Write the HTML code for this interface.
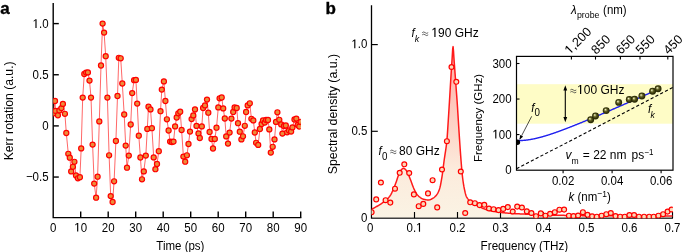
<!DOCTYPE html><html><head><meta charset="utf-8"><style>html,body{margin:0;padding:0;background:#fff;}svg{display:block;will-change:transform;}text{font-family:"Liberation Sans", sans-serif;}</style></head><body>
<svg width="685" height="252" viewBox="0 0 685 252">
<defs>
<linearGradient id="gf" x1="0" y1="46" x2="0" y2="218" gradientUnits="userSpaceOnUse">
<stop offset="0" stop-color="#ffa8a0"/><stop offset="0.2" stop-color="#ffbcb2"/><stop offset="0.43" stop-color="#fdd0c4"/><stop offset="0.72" stop-color="#fcebdc"/><stop offset="1" stop-color="#faf3e4"/></linearGradient>
<radialGradient id="sph" cx="0.5" cy="0.5" r="0.5" fx="0.36" fy="0.33"><stop offset="0" stop-color="#fafae8"/><stop offset="0.16" stop-color="#c8c890"/><stop offset="0.45" stop-color="#5e5e22"/><stop offset="0.8" stop-color="#303008"/><stop offset="1" stop-color="#262604"/></radialGradient>
<marker id="ah" viewBox="0 0 10 10" refX="9" refY="5" markerWidth="6" markerHeight="6" orient="auto-start-reverse"><path d="M0,1 L10,5 L0,9 z" fill="#000"/></marker>
</defs>
<text transform="translate(0.2,13.7)" font-size="17" font-weight="bold" stroke="#000" stroke-width="0.35">a</text>
<text transform="translate(325.6,13.7)" font-size="17" font-weight="bold" stroke="#000" stroke-width="0.35">b</text>
<g stroke="#000" stroke-width="1.4" fill="none">
<path d="M53.2,3.0 V217.6 H301.4"/>
<path d="M53.2,23.6 h5.6"/>
<path d="M53.2,74.75 h5.6"/>
<path d="M53.2,125.9 h5.6"/>
<path d="M53.2,177.05 h5.6"/>
<path d="M80.7,217.6 v-6"/>
<path d="M108.2,217.6 v-6"/>
<path d="M135.7,217.6 v-6"/>
<path d="M163.2,217.6 v-6"/>
<path d="M190.7,217.6 v-6"/>
<path d="M218.2,217.6 v-6"/>
<path d="M245.7,217.6 v-6"/>
<path d="M273.2,217.6 v-6"/>
<path d="M300.7,217.6 v-6"/>
</g>
<g font-size="11.5" fill="#000">
<g transform="translate(48.6,27.9) scale(1,1.1)"><text y="0" x="-15.99" font-size="11.5" > .0</text><path d="M-13.18,0.00 L-13.18,-6.88 L-14.92,-5.62 L-14.92,-6.60 L-13.04,-7.91 L-12.03,-7.91 L-12.03,0.00Z" fill="#000"/></g>
<g transform="translate(48.6,79.05) scale(1,1.1)"><text y="0" x="-15.99" font-size="11.5" >0.5</text></g>
<g transform="translate(48.6,130.2) scale(1,1.1)"><text y="0" x="-6.4" font-size="11.5" >0</text></g>
<g transform="translate(48.6,181.35) scale(1,1.1)"><text y="0" x="-22.7" font-size="11.5" >−0.5</text></g>
<g transform="translate(53.2,231.6) scale(1,1.1)"><text y="0" x="-3.2" font-size="11.5" >0</text></g>
<g transform="translate(80.7,231.6) scale(1,1.1)"><text y="0" x="-6.4" font-size="11.5" > 0</text><path d="M-3.59,0.00 L-3.59,-6.88 L-5.33,-5.62 L-5.33,-6.60 L-3.45,-7.91 L-2.44,-7.91 L-2.44,0.00Z" fill="#000"/></g>
<g transform="translate(108.2,231.6) scale(1,1.1)"><text y="0" x="-6.4" font-size="11.5" >20</text></g>
<g transform="translate(135.7,231.6) scale(1,1.1)"><text y="0" x="-6.4" font-size="11.5" >30</text></g>
<g transform="translate(163.2,231.6) scale(1,1.1)"><text y="0" x="-6.4" font-size="11.5" >40</text></g>
<g transform="translate(190.7,231.6) scale(1,1.1)"><text y="0" x="-6.4" font-size="11.5" >50</text></g>
<g transform="translate(218.2,231.6) scale(1,1.1)"><text y="0" x="-6.4" font-size="11.5" >60</text></g>
<g transform="translate(245.7,231.6) scale(1,1.1)"><text y="0" x="-6.4" font-size="11.5" >70</text></g>
<g transform="translate(273.2,231.6) scale(1,1.1)"><text y="0" x="-6.4" font-size="11.5" >80</text></g>
<g transform="translate(300.7,231.6) scale(1,1.1)"><text y="0" x="-6.4" font-size="11.5" >90</text></g>
<text transform="translate(180.4,250.2) scale(1,1.1)" text-anchor="middle">Time (ps)</text>
<text transform="translate(12.6,110.85) rotate(-90)" text-anchor="middle" font-size="12.2">Kerr rotation (a.u.)</text>
</g>
<clipPath id="ca"><rect x="53.2" y="0" width="247.6" height="218"/></clipPath>
<g clip-path="url(#ca)">
<path d="M53.5,113.3 L55,101 L55.5,110.9 L57.9,115.3 L59.4,110.4 L61.4,108.1 L62.9,103.9 L64.9,113.8 L66.3,133 L68.3,153.8 L69.8,157.7 L71.2,171.4 L72.9,166.8 L74.4,161.8 L76,175.5 L77.9,178.3 L79.9,177.2 L81.2,148.4 L82.7,97.6 L84.3,74 L86.1,72.6 L87.9,72.4 L89.5,80.6 L91,97.6 L92.6,144.6 L94.2,183.6 L96.1,197.7 L97.6,176.7 L99.3,121.4 L101,65.5 L102.6,23.6 L104.1,32.6 L105.7,56.2 L107.4,97.6 L109.1,155.3 L110.7,196.1 L112.6,202 L114.1,181.3 L115.9,141 L117.5,96 L118.8,57.8 L120.7,58.3 L122.3,83.5 L124.2,114.5 L125.7,145.6 L127,167.7 L128.8,155.6 L130.7,124.5 L132.2,93.1 L134.1,80.2 L135.9,79.9 L137.2,103.6 L138.8,135.7 L140.4,157.5 L142,179.3 L143.8,171.4 L145.8,155.6 L147.3,128.9 L148.5,106.7 L150.5,109.4 L151.9,128.2 L153.7,157.4 L155.4,169.2 L157,164 L158.8,151.2 L160.5,111.2 L161.8,89.6 L163.9,81.4 L165.4,101 L166.9,119.3 L168.6,130.5 L170.1,141.6 L171.9,142 L173.5,141.6 L175.1,126.4 L176.7,117.5 L178.3,113.3 L180.2,111.7 L181.6,130 L183.4,156.6 L185.2,161.7 L186.9,155.3 L188.5,144 L190,131.6 L191.6,119.1 L193.3,115.4 L195,109.4 L196.5,125.9 L198.5,133.5 L199.8,138 L201.8,126.4 L203.1,108 L205,105.4 L207,99.6 L208.3,112.7 L209.6,132 L211.5,139 L213,148.5 L214.8,139 L216.5,127.7 L218.3,107.4 L219.6,98.3 L221.7,97.5 L223.2,108.4 L224.8,118.5 L226.2,136.4 L228,143.6 L229.6,132.6 L231.4,118.6 L233.2,112 L234.6,107.5 L236.7,108 L238,123.2 L239.8,131.7 L241.4,139.4 L243,136.3 L244.8,125.8 L246.1,112 L247.7,105.4 L249.8,103.3 L251.4,118.8 L253.3,120.4 L254.8,132.5 L256.1,142.8 L258.2,144.9 L259.9,129 L261.6,124 L263,120.5 L264.8,122.5 L266.1,120 L268,120 L269.3,129.4 L270.8,152.6 L272.7,146.8 L274.5,139.4 L276,121.9 L277.4,112.3 L279.3,119.8 L281.2,124.4 L282.4,133.6 L284,126 L285.8,125.5 L287.1,132.3 L289,130.5 L291.1,131.5 L292.4,127.4 L294.5,119.5 L296.3,118.6 L297.7,125 L299.3,126.5 L300.6,121.9" fill="none" stroke="#ff0000" stroke-width="0.6" stroke-linejoin="round"/>
<g fill="#ec8c3a" stroke="#ff0000" stroke-width="1.2">
<circle cx="53.5" cy="113.3" r="2.55"/>
<circle cx="55" cy="101" r="2.55"/>
<circle cx="55.5" cy="110.9" r="2.55"/>
<circle cx="57.9" cy="115.3" r="2.55"/>
<circle cx="59.4" cy="110.4" r="2.55"/>
<circle cx="61.4" cy="108.1" r="2.55"/>
<circle cx="62.9" cy="103.9" r="2.55"/>
<circle cx="64.9" cy="113.8" r="2.55"/>
<circle cx="66.3" cy="133" r="2.55"/>
<circle cx="68.3" cy="153.8" r="2.55"/>
<circle cx="69.8" cy="157.7" r="2.55"/>
<circle cx="71.2" cy="171.4" r="2.55"/>
<circle cx="72.9" cy="166.8" r="2.55"/>
<circle cx="74.4" cy="161.8" r="2.55"/>
<circle cx="76" cy="175.5" r="2.55"/>
<circle cx="77.9" cy="178.3" r="2.55"/>
<circle cx="79.9" cy="177.2" r="2.55"/>
<circle cx="81.2" cy="148.4" r="2.55"/>
<circle cx="82.7" cy="97.6" r="2.55"/>
<circle cx="84.3" cy="74" r="2.55"/>
<circle cx="86.1" cy="72.6" r="2.55"/>
<circle cx="87.9" cy="72.4" r="2.55"/>
<circle cx="89.5" cy="80.6" r="2.55"/>
<circle cx="91" cy="97.6" r="2.55"/>
<circle cx="92.6" cy="144.6" r="2.55"/>
<circle cx="94.2" cy="183.6" r="2.55"/>
<circle cx="96.1" cy="197.7" r="2.55"/>
<circle cx="97.6" cy="176.7" r="2.55"/>
<circle cx="99.3" cy="121.4" r="2.55"/>
<circle cx="101" cy="65.5" r="2.55"/>
<circle cx="102.6" cy="23.6" r="2.55"/>
<circle cx="104.1" cy="32.6" r="2.55"/>
<circle cx="105.7" cy="56.2" r="2.55"/>
<circle cx="107.4" cy="97.6" r="2.55"/>
<circle cx="109.1" cy="155.3" r="2.55"/>
<circle cx="110.7" cy="196.1" r="2.55"/>
<circle cx="112.6" cy="202" r="2.55"/>
<circle cx="114.1" cy="181.3" r="2.55"/>
<circle cx="115.9" cy="141" r="2.55"/>
<circle cx="117.5" cy="96" r="2.55"/>
<circle cx="118.8" cy="57.8" r="2.55"/>
<circle cx="120.7" cy="58.3" r="2.55"/>
<circle cx="122.3" cy="83.5" r="2.55"/>
<circle cx="124.2" cy="114.5" r="2.55"/>
<circle cx="125.7" cy="145.6" r="2.55"/>
<circle cx="127" cy="167.7" r="2.55"/>
<circle cx="128.8" cy="155.6" r="2.55"/>
<circle cx="130.7" cy="124.5" r="2.55"/>
<circle cx="132.2" cy="93.1" r="2.55"/>
<circle cx="134.1" cy="80.2" r="2.55"/>
<circle cx="135.9" cy="79.9" r="2.55"/>
<circle cx="137.2" cy="103.6" r="2.55"/>
<circle cx="138.8" cy="135.7" r="2.55"/>
<circle cx="140.4" cy="157.5" r="2.55"/>
<circle cx="142" cy="179.3" r="2.55"/>
<circle cx="143.8" cy="171.4" r="2.55"/>
<circle cx="145.8" cy="155.6" r="2.55"/>
<circle cx="147.3" cy="128.9" r="2.55"/>
<circle cx="148.5" cy="106.7" r="2.55"/>
<circle cx="150.5" cy="109.4" r="2.55"/>
<circle cx="151.9" cy="128.2" r="2.55"/>
<circle cx="153.7" cy="157.4" r="2.55"/>
<circle cx="155.4" cy="169.2" r="2.55"/>
<circle cx="157" cy="164" r="2.55"/>
<circle cx="158.8" cy="151.2" r="2.55"/>
<circle cx="160.5" cy="111.2" r="2.55"/>
<circle cx="161.8" cy="89.6" r="2.55"/>
<circle cx="163.9" cy="81.4" r="2.55"/>
<circle cx="165.4" cy="101" r="2.55"/>
<circle cx="166.9" cy="119.3" r="2.55"/>
<circle cx="168.6" cy="130.5" r="2.55"/>
<circle cx="170.1" cy="141.6" r="2.55"/>
<circle cx="171.9" cy="142" r="2.55"/>
<circle cx="173.5" cy="141.6" r="2.55"/>
<circle cx="175.1" cy="126.4" r="2.55"/>
<circle cx="176.7" cy="117.5" r="2.55"/>
<circle cx="178.3" cy="113.3" r="2.55"/>
<circle cx="180.2" cy="111.7" r="2.55"/>
<circle cx="181.6" cy="130" r="2.55"/>
<circle cx="183.4" cy="156.6" r="2.55"/>
<circle cx="185.2" cy="161.7" r="2.55"/>
<circle cx="186.9" cy="155.3" r="2.55"/>
<circle cx="188.5" cy="144" r="2.55"/>
<circle cx="190" cy="131.6" r="2.55"/>
<circle cx="191.6" cy="119.1" r="2.55"/>
<circle cx="193.3" cy="115.4" r="2.55"/>
<circle cx="195" cy="109.4" r="2.55"/>
<circle cx="196.5" cy="125.9" r="2.55"/>
<circle cx="198.5" cy="133.5" r="2.55"/>
<circle cx="199.8" cy="138" r="2.55"/>
<circle cx="201.8" cy="126.4" r="2.55"/>
<circle cx="203.1" cy="108" r="2.55"/>
<circle cx="205" cy="105.4" r="2.55"/>
<circle cx="207" cy="99.6" r="2.55"/>
<circle cx="208.3" cy="112.7" r="2.55"/>
<circle cx="209.6" cy="132" r="2.55"/>
<circle cx="211.5" cy="139" r="2.55"/>
<circle cx="213" cy="148.5" r="2.55"/>
<circle cx="214.8" cy="139" r="2.55"/>
<circle cx="216.5" cy="127.7" r="2.55"/>
<circle cx="218.3" cy="107.4" r="2.55"/>
<circle cx="219.6" cy="98.3" r="2.55"/>
<circle cx="221.7" cy="97.5" r="2.55"/>
<circle cx="223.2" cy="108.4" r="2.55"/>
<circle cx="224.8" cy="118.5" r="2.55"/>
<circle cx="226.2" cy="136.4" r="2.55"/>
<circle cx="228" cy="143.6" r="2.55"/>
<circle cx="229.6" cy="132.6" r="2.55"/>
<circle cx="231.4" cy="118.6" r="2.55"/>
<circle cx="233.2" cy="112" r="2.55"/>
<circle cx="234.6" cy="107.5" r="2.55"/>
<circle cx="236.7" cy="108" r="2.55"/>
<circle cx="238" cy="123.2" r="2.55"/>
<circle cx="239.8" cy="131.7" r="2.55"/>
<circle cx="241.4" cy="139.4" r="2.55"/>
<circle cx="243" cy="136.3" r="2.55"/>
<circle cx="244.8" cy="125.8" r="2.55"/>
<circle cx="246.1" cy="112" r="2.55"/>
<circle cx="247.7" cy="105.4" r="2.55"/>
<circle cx="249.8" cy="103.3" r="2.55"/>
<circle cx="251.4" cy="118.8" r="2.55"/>
<circle cx="253.3" cy="120.4" r="2.55"/>
<circle cx="254.8" cy="132.5" r="2.55"/>
<circle cx="256.1" cy="142.8" r="2.55"/>
<circle cx="258.2" cy="144.9" r="2.55"/>
<circle cx="259.9" cy="129" r="2.55"/>
<circle cx="261.6" cy="124" r="2.55"/>
<circle cx="263" cy="120.5" r="2.55"/>
<circle cx="264.8" cy="122.5" r="2.55"/>
<circle cx="266.1" cy="120" r="2.55"/>
<circle cx="268" cy="120" r="2.55"/>
<circle cx="269.3" cy="129.4" r="2.55"/>
<circle cx="270.8" cy="152.6" r="2.55"/>
<circle cx="272.7" cy="146.8" r="2.55"/>
<circle cx="274.5" cy="139.4" r="2.55"/>
<circle cx="276" cy="121.9" r="2.55"/>
<circle cx="277.4" cy="112.3" r="2.55"/>
<circle cx="279.3" cy="119.8" r="2.55"/>
<circle cx="281.2" cy="124.4" r="2.55"/>
<circle cx="282.4" cy="133.6" r="2.55"/>
<circle cx="284" cy="126" r="2.55"/>
<circle cx="285.8" cy="125.5" r="2.55"/>
<circle cx="287.1" cy="132.3" r="2.55"/>
<circle cx="289" cy="130.5" r="2.55"/>
<circle cx="291.1" cy="131.5" r="2.55"/>
<circle cx="292.4" cy="127.4" r="2.55"/>
<circle cx="294.5" cy="119.5" r="2.55"/>
<circle cx="296.3" cy="118.6" r="2.55"/>
<circle cx="297.7" cy="125" r="2.55"/>
<circle cx="299.3" cy="126.5" r="2.55"/>
<circle cx="300.6" cy="121.9" r="2.55"/>
</g></g>
<path d="M371.5,5.2 V218 H673" stroke="#000" stroke-width="1.3" fill="none"/>
<clipPath id="cf"><rect x="372.2" y="0" width="300.5" height="217.6"/></clipPath>
<path d="M371.5,209.3 L371.9,209.1 L372.3,208.89 L372.7,208.69 L373.1,208.48 L373.5,208.26 L373.9,208.05 L374.3,207.83 L374.7,207.61 L375.1,207.39 L375.5,207.17 L375.9,206.94 L376.3,206.71 L376.7,206.48 L377.1,206.25 L377.5,206.02 L377.9,205.79 L378.3,205.55 L378.7,205.31 L379.1,205.07 L379.5,204.82 L379.9,204.57 L380.3,204.32 L380.7,204.06 L381.1,203.8 L381.5,203.53 L381.9,203.26 L382.3,202.99 L382.7,202.71 L383.1,202.43 L383.5,202.15 L383.9,201.85 L384.3,201.55 L384.7,201.24 L385.1,200.92 L385.5,200.58 L385.9,200.24 L386.3,199.9 L386.7,199.55 L387.1,199.19 L387.5,198.81 L387.9,198.42 L388.3,198.01 L388.7,197.57 L389.1,197.1 L389.5,196.6 L389.9,196.05 L390.3,195.43 L390.7,194.77 L391.1,194.05 L391.5,193.3 L391.9,192.51 L392.3,191.7 L392.7,190.87 L393.1,189.97 L393.5,189.03 L393.9,188.04 L394.3,187.02 L394.7,185.98 L395.1,184.92 L395.5,183.86 L395.9,182.78 L396.3,181.63 L396.7,180.43 L397.1,179.21 L397.5,178.01 L397.9,176.84 L398.3,175.74 L398.7,174.73 L399.1,173.81 L399.5,172.9 L399.9,172.03 L400.3,171.25 L400.7,170.59 L401.1,170.09 L401.5,169.63 L401.9,169.2 L402.3,168.82 L402.7,168.53 L403.1,168.34 L403.5,168.3 L403.9,168.4 L404.3,168.59 L404.7,168.86 L405.1,169.17 L405.5,169.5 L405.9,169.91 L406.3,170.45 L406.7,171.08 L407.1,171.77 L407.5,172.5 L407.9,173.28 L408.3,174.16 L408.7,175.11 L409.1,176.11 L409.5,177.16 L409.9,178.21 L410.3,179.27 L410.7,180.3 L411.1,181.35 L411.5,182.44 L411.9,183.55 L412.3,184.67 L412.7,185.77 L413.1,186.82 L413.5,187.81 L413.9,188.72 L414.3,189.58 L414.7,190.42 L415.1,191.22 L415.5,191.98 L415.9,192.68 L416.3,193.31 L416.7,193.88 L417.1,194.41 L417.5,194.91 L417.9,195.37 L418.3,195.81 L418.7,196.21 L419.1,196.57 L419.5,196.9 L419.9,197.2 L420.3,197.5 L420.7,197.78 L421.1,198.05 L421.5,198.31 L421.9,198.54 L422.3,198.75 L422.7,198.93 L423.1,199.08 L423.5,199.2 L423.9,199.3 L424.3,199.4 L424.7,199.49 L425.1,199.58 L425.5,199.67 L425.9,199.74 L426.3,199.81 L426.7,199.87 L427.1,199.92 L427.5,199.96 L427.9,199.98 L428.3,200 L428.7,199.99 L429.1,199.95 L429.5,199.87 L429.9,199.76 L430.3,199.61 L430.7,199.44 L431.1,199.24 L431.5,199.02 L431.9,198.79 L432.3,198.55 L432.7,198.3 L433.1,198.05 L433.5,197.8 L433.9,197.53 L434.3,197.23 L434.7,196.9 L435.1,196.53 L435.5,196.13 L435.9,195.69 L436.3,195.22 L436.7,194.71 L437.1,194.16 L437.5,193.54 L437.9,192.84 L438.3,192.03 L438.7,191.13 L439.1,190.12 L439.5,189 L439.9,187.65 L440.3,185.99 L440.7,184.08 L441.1,181.97 L441.5,179.73 L441.9,177.4 L442.3,174.76 L442.7,171.81 L443.1,168.67 L443.5,165.45 L443.9,162.28 L444.3,159.27 L444.7,156.54 L445.1,153.98 L445.5,151.43 L445.9,148.74 L446.3,145.75 L446.7,142.33 L447.1,138.17 L447.5,132.65 L447.9,126.35 L448.3,120 L448.7,113.73 L449.1,107.27 L449.5,100.71 L449.9,94.02 L450.3,87.32 L450.7,80.56 L451.1,74 L451.5,67.83 L451.9,61.91 L452.3,55.66 L452.7,48.7 L453.1,46.63 L453.5,51.06 L453.9,57.59 L454.3,63 L454.7,68.49 L455.1,74 L455.5,79.45 L455.9,84.91 L456.3,90.35 L456.7,95.68 L457.1,101.12 L457.5,107.04 L457.9,113.5 L458.3,120 L458.7,126.38 L459.1,132.74 L459.5,138.91 L459.9,144.82 L460.3,150.59 L460.7,156.1 L461.1,161.26 L461.5,166.27 L461.9,171 L462.3,175.11 L462.7,178.49 L463.1,181.5 L463.5,184.17 L463.9,186.48 L464.3,188.52 L464.7,190.47 L465.1,192.27 L465.5,193.88 L465.9,195.24 L466.3,196.29 L466.7,197.07 L467.1,197.75 L467.5,198.36 L467.9,198.9 L468.3,199.39 L468.7,199.82 L469.1,200.22 L469.5,200.58 L469.9,200.92 L470.3,201.23 L470.7,201.52 L471.1,201.79 L471.5,202.03 L471.9,202.26 L472.3,202.48 L472.7,202.68 L473.1,202.89 L473.5,203.09 L473.9,203.29 L474.3,203.5 L474.7,203.73 L475.1,203.96 L475.5,204.21 L475.9,204.46 L476.3,204.72 L476.7,204.99 L477.1,205.26 L477.5,205.53 L477.9,205.79 L478.3,206.05 L478.7,206.3 L479.1,206.55 L479.5,206.78 L479.9,207 L480.3,207.2 L480.7,207.39 L481.1,207.57 L481.5,207.75 L481.9,207.93 L482.3,208.1 L482.7,208.27 L483.1,208.43 L483.5,208.59 L483.9,208.75 L484.3,208.9 L484.7,209.05 L485.1,209.19 L485.5,209.33 L485.9,209.47 L486.3,209.6 L486.7,209.72 L487.1,209.84 L487.5,209.96 L487.9,210.07 L488.3,210.17 L488.7,210.28 L489.1,210.37 L489.5,210.47 L489.9,210.56 L490.3,210.65 L490.7,210.74 L491.1,210.82 L491.5,210.91 L491.9,210.99 L492.3,211.07 L492.7,211.15 L493.1,211.23 L493.5,211.3 L493.9,211.38 L494.3,211.45 L494.7,211.52 L495.1,211.59 L495.5,211.66 L495.9,211.72 L496.3,211.79 L496.7,211.85 L497.1,211.91 L497.5,211.97 L497.9,212.03 L498.3,212.09 L498.7,212.14 L499.1,212.2 L499.5,212.25 L499.9,212.3 L500.3,212.35 L500.7,212.4 L501.1,212.45 L501.5,212.5 L501.9,212.54 L502.3,212.59 L502.7,212.63 L503.1,212.68 L503.5,212.72 L503.9,212.76 L504.3,212.8 L504.7,212.84 L505.1,212.89 L505.5,212.92 L505.9,212.96 L506.3,213 L506.7,213.04 L507.1,213.07 L507.5,213.11 L507.9,213.14 L508.3,213.18 L508.7,213.21 L509.1,213.24 L509.5,213.28 L509.9,213.31 L510.3,213.34 L510.7,213.37 L511.1,213.4 L511.5,213.43 L511.9,213.45 L512.3,213.48 L512.7,213.51 L513.1,213.53 L513.5,213.56 L513.9,213.58 L514.3,213.6 L514.7,213.63 L515.1,213.65 L515.5,213.67 L515.9,213.69 L516.3,213.71 L516.7,213.74 L517.1,213.76 L517.5,213.78 L517.9,213.79 L518.3,213.81 L518.7,213.83 L519.1,213.85 L519.5,213.87 L519.9,213.89 L520.3,213.91 L520.7,213.93 L521.1,213.94 L521.5,213.96 L521.9,213.98 L522.3,214 L522.7,214.02 L523.1,214.03 L523.5,214.05 L523.9,214.07 L524.3,214.09 L524.7,214.11 L525.1,214.13 L525.5,214.15 L525.9,214.17 L526.3,214.19 L526.7,214.21 L527.1,214.23 L527.5,214.25 L527.9,214.27 L528.3,214.29 L528.7,214.31 L529.1,214.32 L529.5,214.34 L529.9,214.36 L530.3,214.38 L530.7,214.4 L531.1,214.42 L531.5,214.44 L531.9,214.46 L532.3,214.48 L532.7,214.5 L533.1,214.52 L533.5,214.54 L533.9,214.55 L534.3,214.57 L534.7,214.59 L535.1,214.61 L535.5,214.63 L535.9,214.64 L536.3,214.66 L536.7,214.68 L537.1,214.69 L537.5,214.71 L537.9,214.72 L538.3,214.74 L538.7,214.75 L539.1,214.77 L539.5,214.78 L539.9,214.8 L540.3,214.81 L540.7,214.82 L541.1,214.84 L541.5,214.85 L541.9,214.86 L542.3,214.87 L542.7,214.89 L543.1,214.9 L543.5,214.91 L543.9,214.92 L544.3,214.94 L544.7,214.95 L545.1,214.96 L545.5,214.97 L545.9,214.98 L546.3,214.99 L546.7,215 L547.1,215.02 L547.5,215.03 L547.9,215.04 L548.3,215.05 L548.7,215.06 L549.1,215.07 L549.5,215.08 L549.9,215.09 L550.3,215.1 L550.7,215.11 L551.1,215.12 L551.5,215.13 L551.9,215.14 L552.3,215.14 L552.7,215.15 L553.1,215.16 L553.5,215.17 L553.9,215.18 L554.3,215.19 L554.7,215.19 L555.1,215.2 L555.5,215.21 L555.9,215.22 L556.3,215.23 L556.7,215.23 L557.1,215.24 L557.5,215.25 L557.9,215.26 L558.3,215.26 L558.7,215.27 L559.1,215.28 L559.5,215.29 L559.9,215.29 L560.3,215.3 L560.7,215.31 L561.1,215.31 L561.5,215.32 L561.9,215.33 L562.3,215.34 L562.7,215.34 L563.1,215.35 L563.5,215.36 L563.9,215.36 L564.3,215.37 L564.7,215.38 L565.1,215.38 L565.5,215.39 L565.9,215.4 L566.3,215.4 L566.7,215.41 L567.1,215.42 L567.5,215.42 L567.9,215.43 L568.3,215.44 L568.7,215.44 L569.1,215.45 L569.5,215.46 L569.9,215.46 L570.3,215.47 L570.7,215.48 L571.1,215.48 L571.5,215.49 L571.9,215.49 L572.3,215.5 L572.7,215.5 L573.1,215.51 L573.5,215.52 L573.9,215.52 L574.3,215.53 L574.7,215.53 L575.1,215.54 L575.5,215.54 L575.9,215.55 L576.3,215.56 L576.7,215.56 L577.1,215.57 L577.5,215.57 L577.9,215.58 L578.3,215.58 L578.7,215.59 L579.1,215.59 L579.5,215.6 L579.9,215.6 L580.3,215.61 L580.7,215.61 L581.1,215.62 L581.5,215.62 L581.9,215.62 L582.3,215.63 L582.7,215.63 L583.1,215.64 L583.5,215.64 L583.9,215.65 L584.3,215.65 L584.7,215.65 L585.1,215.66 L585.5,215.66 L585.9,215.67 L586.3,215.67 L586.7,215.67 L587.1,215.68 L587.5,215.68 L587.9,215.68 L588.3,215.69 L588.7,215.69 L589.1,215.69 L589.5,215.7 L589.9,215.7 L590.3,215.7 L590.7,215.71 L591.1,215.71 L591.5,215.71 L591.9,215.71 L592.3,215.72 L592.7,215.72 L593.1,215.72 L593.5,215.73 L593.9,215.73 L594.3,215.73 L594.7,215.73 L595.1,215.74 L595.5,215.74 L595.9,215.74 L596.3,215.74 L596.7,215.75 L597.1,215.75 L597.5,215.75 L597.9,215.75 L598.3,215.76 L598.7,215.76 L599.1,215.76 L599.5,215.76 L599.9,215.77 L600.3,215.77 L600.7,215.77 L601.1,215.77 L601.5,215.78 L601.9,215.78 L602.3,215.78 L602.7,215.78 L603.1,215.79 L603.5,215.79 L603.9,215.79 L604.3,215.79 L604.7,215.79 L605.1,215.8 L605.5,215.8 L605.9,215.8 L606.3,215.8 L606.7,215.8 L607.1,215.81 L607.5,215.81 L607.9,215.81 L608.3,215.81 L608.7,215.82 L609.1,215.82 L609.5,215.82 L609.9,215.82 L610.3,215.82 L610.7,215.82 L611.1,215.83 L611.5,215.83 L611.9,215.83 L612.3,215.83 L612.7,215.83 L613.1,215.84 L613.5,215.84 L613.9,215.84 L614.3,215.84 L614.7,215.84 L615.1,215.84 L615.5,215.85 L615.9,215.85 L616.3,215.85 L616.7,215.85 L617.1,215.85 L617.5,215.85 L617.9,215.86 L618.3,215.86 L618.7,215.86 L619.1,215.86 L619.5,215.86 L619.9,215.86 L620.3,215.87 L620.7,215.87 L621.1,215.87 L621.5,215.87 L621.9,215.87 L622.3,215.87 L622.7,215.87 L623.1,215.88 L623.5,215.88 L623.9,215.88 L624.3,215.88 L624.7,215.88 L625.1,215.88 L625.5,215.88 L625.9,215.89 L626.3,215.89 L626.7,215.89 L627.1,215.89 L627.5,215.89 L627.9,215.89 L628.3,215.89 L628.7,215.9 L629.1,215.9 L629.5,215.9 L629.9,215.9 L630.3,215.9 L630.7,215.9 L631.1,215.9 L631.5,215.9 L631.9,215.91 L632.3,215.91 L632.7,215.91 L633.1,215.91 L633.5,215.91 L633.9,215.91 L634.3,215.91 L634.7,215.91 L635.1,215.92 L635.5,215.92 L635.9,215.92 L636.3,215.92 L636.7,215.92 L637.1,215.92 L637.5,215.92 L637.9,215.92 L638.3,215.93 L638.7,215.93 L639.1,215.93 L639.5,215.93 L639.9,215.93 L640.3,215.93 L640.7,215.93 L641.1,215.93 L641.5,215.94 L641.9,215.94 L642.3,215.94 L642.7,215.94 L643.1,215.94 L643.5,215.94 L643.9,215.94 L644.3,215.94 L644.7,215.94 L645.1,215.95 L645.5,215.95 L645.9,215.95 L646.3,215.95 L646.7,215.95 L647.1,215.95 L647.5,215.95 L647.9,215.95 L648.3,215.95 L648.7,215.96 L649.1,215.96 L649.5,215.96 L649.9,215.96 L650.3,215.96 L650.7,215.96 L651.1,215.96 L651.5,215.96 L651.9,215.96 L652.3,215.96 L652.7,215.97 L653.1,215.97 L653.5,215.97 L653.9,215.97 L654.3,215.97 L654.7,215.97 L655.1,215.97 L655.5,215.97 L655.9,215.97 L656.3,215.97 L656.7,215.97 L657.1,215.98 L657.5,215.98 L657.9,215.98 L658.3,215.98 L658.7,215.98 L659.1,215.98 L659.5,215.98 L659.9,215.98 L660.3,215.98 L660.7,215.98 L661.1,215.98 L661.5,215.98 L661.9,215.98 L662.3,215.99 L662.7,215.99 L663.1,215.99 L663.5,215.99 L663.9,215.99 L664.3,215.99 L664.7,215.99 L665.1,215.99 L665.5,215.99 L665.9,215.99 L666.3,215.99 L666.7,215.99 L667.1,215.99 L667.5,215.99 L667.9,215.99 L668.3,215.99 L668.7,216 L669.1,216 L669.5,216 L669.9,216 L670.3,216 L670.7,216 L671.1,216 L671.5,216 L671.9,216 L672.3,216 L672.7,216 L672.7,219 L371.5,219 Z" fill="url(#gf)" stroke="none" clip-path="url(#cf)"/>
<g stroke="#000" stroke-width="1.15" fill="none">
<path d="M371.5,131.3 h6.3"/>
<path d="M371.5,44.6 h6.3"/>
<path d="M414.5,218 v-6"/>
<path d="M457.5,218 v-6"/>
<path d="M500.5,218 v-6"/>
<path d="M543.5,218 v-6"/>
<path d="M586.5,218 v-6"/>
<path d="M629.5,218 v-6"/>
<path d="M672.5,218 v-6"/>
</g>
<clipPath id="cb"><rect x="371.5" y="0" width="301.3" height="218.3"/></clipPath>
<g clip-path="url(#cb)">
<path d="M371.5,209.3 L371.9,209.1 L372.3,208.89 L372.7,208.69 L373.1,208.48 L373.5,208.26 L373.9,208.05 L374.3,207.83 L374.7,207.61 L375.1,207.39 L375.5,207.17 L375.9,206.94 L376.3,206.71 L376.7,206.48 L377.1,206.25 L377.5,206.02 L377.9,205.79 L378.3,205.55 L378.7,205.31 L379.1,205.07 L379.5,204.82 L379.9,204.57 L380.3,204.32 L380.7,204.06 L381.1,203.8 L381.5,203.53 L381.9,203.26 L382.3,202.99 L382.7,202.71 L383.1,202.43 L383.5,202.15 L383.9,201.85 L384.3,201.55 L384.7,201.24 L385.1,200.92 L385.5,200.58 L385.9,200.24 L386.3,199.9 L386.7,199.55 L387.1,199.19 L387.5,198.81 L387.9,198.42 L388.3,198.01 L388.7,197.57 L389.1,197.1 L389.5,196.6 L389.9,196.05 L390.3,195.43 L390.7,194.77 L391.1,194.05 L391.5,193.3 L391.9,192.51 L392.3,191.7 L392.7,190.87 L393.1,189.97 L393.5,189.03 L393.9,188.04 L394.3,187.02 L394.7,185.98 L395.1,184.92 L395.5,183.86 L395.9,182.78 L396.3,181.63 L396.7,180.43 L397.1,179.21 L397.5,178.01 L397.9,176.84 L398.3,175.74 L398.7,174.73 L399.1,173.81 L399.5,172.9 L399.9,172.03 L400.3,171.25 L400.7,170.59 L401.1,170.09 L401.5,169.63 L401.9,169.2 L402.3,168.82 L402.7,168.53 L403.1,168.34 L403.5,168.3 L403.9,168.4 L404.3,168.59 L404.7,168.86 L405.1,169.17 L405.5,169.5 L405.9,169.91 L406.3,170.45 L406.7,171.08 L407.1,171.77 L407.5,172.5 L407.9,173.28 L408.3,174.16 L408.7,175.11 L409.1,176.11 L409.5,177.16 L409.9,178.21 L410.3,179.27 L410.7,180.3 L411.1,181.35 L411.5,182.44 L411.9,183.55 L412.3,184.67 L412.7,185.77 L413.1,186.82 L413.5,187.81 L413.9,188.72 L414.3,189.58 L414.7,190.42 L415.1,191.22 L415.5,191.98 L415.9,192.68 L416.3,193.31 L416.7,193.88 L417.1,194.41 L417.5,194.91 L417.9,195.37 L418.3,195.81 L418.7,196.21 L419.1,196.57 L419.5,196.9 L419.9,197.2 L420.3,197.5 L420.7,197.78 L421.1,198.05 L421.5,198.31 L421.9,198.54 L422.3,198.75 L422.7,198.93 L423.1,199.08 L423.5,199.2 L423.9,199.3 L424.3,199.4 L424.7,199.49 L425.1,199.58 L425.5,199.67 L425.9,199.74 L426.3,199.81 L426.7,199.87 L427.1,199.92 L427.5,199.96 L427.9,199.98 L428.3,200 L428.7,199.99 L429.1,199.95 L429.5,199.87 L429.9,199.76 L430.3,199.61 L430.7,199.44 L431.1,199.24 L431.5,199.02 L431.9,198.79 L432.3,198.55 L432.7,198.3 L433.1,198.05 L433.5,197.8 L433.9,197.53 L434.3,197.23 L434.7,196.9 L435.1,196.53 L435.5,196.13 L435.9,195.69 L436.3,195.22 L436.7,194.71 L437.1,194.16 L437.5,193.54 L437.9,192.84 L438.3,192.03 L438.7,191.13 L439.1,190.12 L439.5,189 L439.9,187.65 L440.3,185.99 L440.7,184.08 L441.1,181.97 L441.5,179.73 L441.9,177.4 L442.3,174.76 L442.7,171.81 L443.1,168.67 L443.5,165.45 L443.9,162.28 L444.3,159.27 L444.7,156.54 L445.1,153.98 L445.5,151.43 L445.9,148.74 L446.3,145.75 L446.7,142.33 L447.1,138.17 L447.5,132.65 L447.9,126.35 L448.3,120 L448.7,113.73 L449.1,107.27 L449.5,100.71 L449.9,94.02 L450.3,87.32 L450.7,80.56 L451.1,74 L451.5,67.83 L451.9,61.91 L452.3,55.66 L452.7,48.7 L453.1,46.63 L453.5,51.06 L453.9,57.59 L454.3,63 L454.7,68.49 L455.1,74 L455.5,79.45 L455.9,84.91 L456.3,90.35 L456.7,95.68 L457.1,101.12 L457.5,107.04 L457.9,113.5 L458.3,120 L458.7,126.38 L459.1,132.74 L459.5,138.91 L459.9,144.82 L460.3,150.59 L460.7,156.1 L461.1,161.26 L461.5,166.27 L461.9,171 L462.3,175.11 L462.7,178.49 L463.1,181.5 L463.5,184.17 L463.9,186.48 L464.3,188.52 L464.7,190.47 L465.1,192.27 L465.5,193.88 L465.9,195.24 L466.3,196.29 L466.7,197.07 L467.1,197.75 L467.5,198.36 L467.9,198.9 L468.3,199.39 L468.7,199.82 L469.1,200.22 L469.5,200.58 L469.9,200.92 L470.3,201.23 L470.7,201.52 L471.1,201.79 L471.5,202.03 L471.9,202.26 L472.3,202.48 L472.7,202.68 L473.1,202.89 L473.5,203.09 L473.9,203.29 L474.3,203.5 L474.7,203.73 L475.1,203.96 L475.5,204.21 L475.9,204.46 L476.3,204.72 L476.7,204.99 L477.1,205.26 L477.5,205.53 L477.9,205.79 L478.3,206.05 L478.7,206.3 L479.1,206.55 L479.5,206.78 L479.9,207 L480.3,207.2 L480.7,207.39 L481.1,207.57 L481.5,207.75 L481.9,207.93 L482.3,208.1 L482.7,208.27 L483.1,208.43 L483.5,208.59 L483.9,208.75 L484.3,208.9 L484.7,209.05 L485.1,209.19 L485.5,209.33 L485.9,209.47 L486.3,209.6 L486.7,209.72 L487.1,209.84 L487.5,209.96 L487.9,210.07 L488.3,210.17 L488.7,210.28 L489.1,210.37 L489.5,210.47 L489.9,210.56 L490.3,210.65 L490.7,210.74 L491.1,210.82 L491.5,210.91 L491.9,210.99 L492.3,211.07 L492.7,211.15 L493.1,211.23 L493.5,211.3 L493.9,211.38 L494.3,211.45 L494.7,211.52 L495.1,211.59 L495.5,211.66 L495.9,211.72 L496.3,211.79 L496.7,211.85 L497.1,211.91 L497.5,211.97 L497.9,212.03 L498.3,212.09 L498.7,212.14 L499.1,212.2 L499.5,212.25 L499.9,212.3 L500.3,212.35 L500.7,212.4 L501.1,212.45 L501.5,212.5 L501.9,212.54 L502.3,212.59 L502.7,212.63 L503.1,212.68 L503.5,212.72 L503.9,212.76 L504.3,212.8 L504.7,212.84 L505.1,212.89 L505.5,212.92 L505.9,212.96 L506.3,213 L506.7,213.04 L507.1,213.07 L507.5,213.11 L507.9,213.14 L508.3,213.18 L508.7,213.21 L509.1,213.24 L509.5,213.28 L509.9,213.31 L510.3,213.34 L510.7,213.37 L511.1,213.4 L511.5,213.43 L511.9,213.45 L512.3,213.48 L512.7,213.51 L513.1,213.53 L513.5,213.56 L513.9,213.58 L514.3,213.6 L514.7,213.63 L515.1,213.65 L515.5,213.67 L515.9,213.69 L516.3,213.71 L516.7,213.74 L517.1,213.76 L517.5,213.78 L517.9,213.79 L518.3,213.81 L518.7,213.83 L519.1,213.85 L519.5,213.87 L519.9,213.89 L520.3,213.91 L520.7,213.93 L521.1,213.94 L521.5,213.96 L521.9,213.98 L522.3,214 L522.7,214.02 L523.1,214.03 L523.5,214.05 L523.9,214.07 L524.3,214.09 L524.7,214.11 L525.1,214.13 L525.5,214.15 L525.9,214.17 L526.3,214.19 L526.7,214.21 L527.1,214.23 L527.5,214.25 L527.9,214.27 L528.3,214.29 L528.7,214.31 L529.1,214.32 L529.5,214.34 L529.9,214.36 L530.3,214.38 L530.7,214.4 L531.1,214.42 L531.5,214.44 L531.9,214.46 L532.3,214.48 L532.7,214.5 L533.1,214.52 L533.5,214.54 L533.9,214.55 L534.3,214.57 L534.7,214.59 L535.1,214.61 L535.5,214.63 L535.9,214.64 L536.3,214.66 L536.7,214.68 L537.1,214.69 L537.5,214.71 L537.9,214.72 L538.3,214.74 L538.7,214.75 L539.1,214.77 L539.5,214.78 L539.9,214.8 L540.3,214.81 L540.7,214.82 L541.1,214.84 L541.5,214.85 L541.9,214.86 L542.3,214.87 L542.7,214.89 L543.1,214.9 L543.5,214.91 L543.9,214.92 L544.3,214.94 L544.7,214.95 L545.1,214.96 L545.5,214.97 L545.9,214.98 L546.3,214.99 L546.7,215 L547.1,215.02 L547.5,215.03 L547.9,215.04 L548.3,215.05 L548.7,215.06 L549.1,215.07 L549.5,215.08 L549.9,215.09 L550.3,215.1 L550.7,215.11 L551.1,215.12 L551.5,215.13 L551.9,215.14 L552.3,215.14 L552.7,215.15 L553.1,215.16 L553.5,215.17 L553.9,215.18 L554.3,215.19 L554.7,215.19 L555.1,215.2 L555.5,215.21 L555.9,215.22 L556.3,215.23 L556.7,215.23 L557.1,215.24 L557.5,215.25 L557.9,215.26 L558.3,215.26 L558.7,215.27 L559.1,215.28 L559.5,215.29 L559.9,215.29 L560.3,215.3 L560.7,215.31 L561.1,215.31 L561.5,215.32 L561.9,215.33 L562.3,215.34 L562.7,215.34 L563.1,215.35 L563.5,215.36 L563.9,215.36 L564.3,215.37 L564.7,215.38 L565.1,215.38 L565.5,215.39 L565.9,215.4 L566.3,215.4 L566.7,215.41 L567.1,215.42 L567.5,215.42 L567.9,215.43 L568.3,215.44 L568.7,215.44 L569.1,215.45 L569.5,215.46 L569.9,215.46 L570.3,215.47 L570.7,215.48 L571.1,215.48 L571.5,215.49 L571.9,215.49 L572.3,215.5 L572.7,215.5 L573.1,215.51 L573.5,215.52 L573.9,215.52 L574.3,215.53 L574.7,215.53 L575.1,215.54 L575.5,215.54 L575.9,215.55 L576.3,215.56 L576.7,215.56 L577.1,215.57 L577.5,215.57 L577.9,215.58 L578.3,215.58 L578.7,215.59 L579.1,215.59 L579.5,215.6 L579.9,215.6 L580.3,215.61 L580.7,215.61 L581.1,215.62 L581.5,215.62 L581.9,215.62 L582.3,215.63 L582.7,215.63 L583.1,215.64 L583.5,215.64 L583.9,215.65 L584.3,215.65 L584.7,215.65 L585.1,215.66 L585.5,215.66 L585.9,215.67 L586.3,215.67 L586.7,215.67 L587.1,215.68 L587.5,215.68 L587.9,215.68 L588.3,215.69 L588.7,215.69 L589.1,215.69 L589.5,215.7 L589.9,215.7 L590.3,215.7 L590.7,215.71 L591.1,215.71 L591.5,215.71 L591.9,215.71 L592.3,215.72 L592.7,215.72 L593.1,215.72 L593.5,215.73 L593.9,215.73 L594.3,215.73 L594.7,215.73 L595.1,215.74 L595.5,215.74 L595.9,215.74 L596.3,215.74 L596.7,215.75 L597.1,215.75 L597.5,215.75 L597.9,215.75 L598.3,215.76 L598.7,215.76 L599.1,215.76 L599.5,215.76 L599.9,215.77 L600.3,215.77 L600.7,215.77 L601.1,215.77 L601.5,215.78 L601.9,215.78 L602.3,215.78 L602.7,215.78 L603.1,215.79 L603.5,215.79 L603.9,215.79 L604.3,215.79 L604.7,215.79 L605.1,215.8 L605.5,215.8 L605.9,215.8 L606.3,215.8 L606.7,215.8 L607.1,215.81 L607.5,215.81 L607.9,215.81 L608.3,215.81 L608.7,215.82 L609.1,215.82 L609.5,215.82 L609.9,215.82 L610.3,215.82 L610.7,215.82 L611.1,215.83 L611.5,215.83 L611.9,215.83 L612.3,215.83 L612.7,215.83 L613.1,215.84 L613.5,215.84 L613.9,215.84 L614.3,215.84 L614.7,215.84 L615.1,215.84 L615.5,215.85 L615.9,215.85 L616.3,215.85 L616.7,215.85 L617.1,215.85 L617.5,215.85 L617.9,215.86 L618.3,215.86 L618.7,215.86 L619.1,215.86 L619.5,215.86 L619.9,215.86 L620.3,215.87 L620.7,215.87 L621.1,215.87 L621.5,215.87 L621.9,215.87 L622.3,215.87 L622.7,215.87 L623.1,215.88 L623.5,215.88 L623.9,215.88 L624.3,215.88 L624.7,215.88 L625.1,215.88 L625.5,215.88 L625.9,215.89 L626.3,215.89 L626.7,215.89 L627.1,215.89 L627.5,215.89 L627.9,215.89 L628.3,215.89 L628.7,215.9 L629.1,215.9 L629.5,215.9 L629.9,215.9 L630.3,215.9 L630.7,215.9 L631.1,215.9 L631.5,215.9 L631.9,215.91 L632.3,215.91 L632.7,215.91 L633.1,215.91 L633.5,215.91 L633.9,215.91 L634.3,215.91 L634.7,215.91 L635.1,215.92 L635.5,215.92 L635.9,215.92 L636.3,215.92 L636.7,215.92 L637.1,215.92 L637.5,215.92 L637.9,215.92 L638.3,215.93 L638.7,215.93 L639.1,215.93 L639.5,215.93 L639.9,215.93 L640.3,215.93 L640.7,215.93 L641.1,215.93 L641.5,215.94 L641.9,215.94 L642.3,215.94 L642.7,215.94 L643.1,215.94 L643.5,215.94 L643.9,215.94 L644.3,215.94 L644.7,215.94 L645.1,215.95 L645.5,215.95 L645.9,215.95 L646.3,215.95 L646.7,215.95 L647.1,215.95 L647.5,215.95 L647.9,215.95 L648.3,215.95 L648.7,215.96 L649.1,215.96 L649.5,215.96 L649.9,215.96 L650.3,215.96 L650.7,215.96 L651.1,215.96 L651.5,215.96 L651.9,215.96 L652.3,215.96 L652.7,215.97 L653.1,215.97 L653.5,215.97 L653.9,215.97 L654.3,215.97 L654.7,215.97 L655.1,215.97 L655.5,215.97 L655.9,215.97 L656.3,215.97 L656.7,215.97 L657.1,215.98 L657.5,215.98 L657.9,215.98 L658.3,215.98 L658.7,215.98 L659.1,215.98 L659.5,215.98 L659.9,215.98 L660.3,215.98 L660.7,215.98 L661.1,215.98 L661.5,215.98 L661.9,215.98 L662.3,215.99 L662.7,215.99 L663.1,215.99 L663.5,215.99 L663.9,215.99 L664.3,215.99 L664.7,215.99 L665.1,215.99 L665.5,215.99 L665.9,215.99 L666.3,215.99 L666.7,215.99 L667.1,215.99 L667.5,215.99 L667.9,215.99 L668.3,215.99 L668.7,216 L669.1,216 L669.5,216 L669.9,216 L670.3,216 L670.7,216 L671.1,216 L671.5,216 L671.9,216 L672.3,216 L672.7,216" fill="none" stroke="#ff1a1a" stroke-width="1.5" stroke-linejoin="round"/>
<g fill="#fad8b8" stroke="#ff0000" stroke-width="1.2">
<circle cx="371.6" cy="212.2" r="2.45"/>
<circle cx="376.2" cy="199.4" r="2.45"/>
<circle cx="380.9" cy="182.5" r="2.45"/>
<circle cx="385.6" cy="200.2" r="2.45"/>
<circle cx="390.3" cy="202.6" r="2.45"/>
<circle cx="395" cy="188.7" r="2.45"/>
<circle cx="399.7" cy="172.8" r="2.45"/>
<circle cx="404.3" cy="164.3" r="2.45"/>
<circle cx="409.2" cy="173" r="2.45"/>
<circle cx="413.9" cy="194.4" r="2.45"/>
<circle cx="418.7" cy="206.2" r="2.45"/>
<circle cx="423.3" cy="203.9" r="2.45"/>
<circle cx="428" cy="193.4" r="2.45"/>
<circle cx="432.6" cy="180.2" r="2.45"/>
<circle cx="437.2" cy="207.4" r="2.45"/>
<circle cx="442" cy="169.5" r="2.45"/>
<circle cx="446.9" cy="141.2" r="2.45"/>
<circle cx="451.5" cy="67" r="2.45"/>
<circle cx="456.3" cy="81.8" r="2.45"/>
<circle cx="460.8" cy="171.5" r="2.45"/>
<circle cx="465.2" cy="213" r="2.45"/>
<circle cx="470.2" cy="202.3" r="2.45"/>
<circle cx="474.9" cy="203.2" r="2.45"/>
<circle cx="479.5" cy="205.1" r="2.45"/>
<circle cx="484.3" cy="204.8" r="2.45"/>
<circle cx="489" cy="208.5" r="2.45"/>
<circle cx="493.6" cy="209.2" r="2.45"/>
<circle cx="498.5" cy="210.1" r="2.45"/>
<circle cx="503.2" cy="208.9" r="2.45"/>
<circle cx="507.8" cy="207.1" r="2.45"/>
<circle cx="512.7" cy="211.5" r="2.45"/>
<circle cx="517.2" cy="206.6" r="2.45"/>
<circle cx="521.9" cy="207.5" r="2.45"/>
<circle cx="526.8" cy="211.3" r="2.45"/>
<circle cx="531.4" cy="213" r="2.45"/>
<circle cx="536" cy="216.2" r="2.45"/>
<circle cx="540.8" cy="213.4" r="2.45"/>
<circle cx="545.4" cy="215.7" r="2.45"/>
<circle cx="550.1" cy="213.8" r="2.45"/>
<circle cx="554.8" cy="212.2" r="2.45"/>
<circle cx="559.4" cy="209.7" r="2.45"/>
<circle cx="564.1" cy="209.6" r="2.45"/>
<circle cx="568.9" cy="215.7" r="2.45"/>
<circle cx="573.5" cy="216" r="2.45"/>
<circle cx="578.1" cy="215.5" r="2.45"/>
<circle cx="582.9" cy="212.2" r="2.45"/>
<circle cx="587.5" cy="214.8" r="2.45"/>
<circle cx="592.1" cy="216.3" r="2.45"/>
<circle cx="596.8" cy="216.7" r="2.45"/>
<circle cx="601.6" cy="215.7" r="2.45"/>
<circle cx="606.3" cy="214.2" r="2.45"/>
<circle cx="610.8" cy="213" r="2.45"/>
<circle cx="615.5" cy="216.1" r="2.45"/>
<circle cx="620.2" cy="216.7" r="2.45"/>
<circle cx="624.7" cy="216.7" r="2.45"/>
<circle cx="629.4" cy="215" r="2.45"/>
<circle cx="634.1" cy="215" r="2.45"/>
<circle cx="639" cy="216.7" r="2.45"/>
<circle cx="644.1" cy="216.7" r="2.45"/>
<circle cx="649.2" cy="216.7" r="2.45"/>
<circle cx="653.7" cy="216.7" r="2.45"/>
<circle cx="658.4" cy="215.7" r="2.45"/>
<circle cx="663.1" cy="214.2" r="2.45"/>
<circle cx="667.6" cy="211.6" r="2.45"/>
<circle cx="671.6" cy="209.5" r="2.45"/>
</g></g>
<g font-size="11.5" fill="#000">
<g transform="translate(367.4,221.7) scale(1,1.1)"><text y="0" x="-6.4" font-size="11.5" >0</text></g>
<g transform="translate(367.4,135) scale(1,1.1)"><text y="0" x="-15.99" font-size="11.5" >0.5</text></g>
<g transform="translate(367.4,48.3) scale(1,1.1)"><text y="0" x="-15.99" font-size="11.5" > .0</text><path d="M-13.18,0.00 L-13.18,-6.88 L-14.92,-5.62 L-14.92,-6.60 L-13.04,-7.91 L-12.03,-7.91 L-12.03,0.00Z" fill="#000"/></g>
<g transform="translate(370.3,231.8) scale(1,1.1)"><text y="0" x="-3.2" font-size="11.5" >0</text></g>
<g transform="translate(414.5,231.8) scale(1,1.1)"><text y="0" x="-7.99" font-size="11.5" >0. </text><path d="M4.41,0.00 L4.41,-6.88 L2.66,-5.62 L2.66,-6.60 L4.55,-7.91 L5.56,-7.91 L5.56,0.00Z" fill="#000"/></g>
<g transform="translate(457.5,231.8) scale(1,1.1)"><text y="0" x="-7.99" font-size="11.5" >0.2</text></g>
<g transform="translate(500.5,231.8) scale(1,1.1)"><text y="0" x="-7.99" font-size="11.5" >0.3</text></g>
<g transform="translate(543.5,231.8) scale(1,1.1)"><text y="0" x="-7.99" font-size="11.5" >0.4</text></g>
<g transform="translate(586.5,231.8) scale(1,1.1)"><text y="0" x="-7.99" font-size="11.5" >0.5</text></g>
<g transform="translate(629.5,231.8) scale(1,1.1)"><text y="0" x="-7.99" font-size="11.5" >0.6</text></g>
<g transform="translate(672.5,231.8) scale(1,1.1)"><text y="0" x="-7.99" font-size="11.5" >0.7</text></g>
<text transform="translate(480.6,250.2) scale(1,1.1)" font-size="11.7">Frequency (THz)</text>
<text transform="translate(336.6,114.05) rotate(-90)" text-anchor="middle" font-size="12.4">Spectral density (a.u.)</text>
<text transform="translate(411.5,36.9) scale(1,1.1)"><tspan font-style="italic">f</tspan><tspan font-style="italic" font-size="9" dy="4.4">k</tspan></text>
<path d="M422.20,32.67 q1.50,-1.44 3.00,0 t3.00,0 M422.20,34.87 q1.50,-1.44 3.00,0 t3.00,0" fill="none" stroke="#333" stroke-width="0.75"/>
<g transform="translate(431.4,36.9) scale(1,1.1)"><text y="0" x="0" font-size="12" > 90 GHz</text><path d="M2.93,0.00 L2.93,-7.18 L1.11,-5.86 L1.11,-6.88 L3.08,-8.26 L4.13,-8.26 L4.13,0.00Z" fill="#000"/></g>
<text transform="translate(378.4,154.9) scale(1,1.1)"><tspan font-style="italic">f</tspan><tspan font-size="9.8" dy="4.4" dx="0.5">0</tspan></text>
<path d="M390.30,150.77 q1.50,-1.44 3.00,0 t3.00,0 M390.30,152.97 q1.50,-1.44 3.00,0 t3.00,0" fill="none" stroke="#333" stroke-width="0.75"/>
<text transform="translate(399.1,154.9) scale(1,1.1)" font-size="12">80 GHz</text>
</g>
<rect x="516.5" y="84.2" width="156.5" height="39.5" fill="#fefcc6"/>
<path d="M516.5,168.8 L673.0,87.4" stroke="#000" stroke-width="1.1" stroke-dasharray="3.2,2.2" fill="none"/>
<path d="M518.5,140.58 L519,140.57 L519.5,140.56 L520,140.55 L520.5,140.54 L521,140.52 L521.5,140.49 L522,140.47 L522.5,140.44 L523,140.4 L523.5,140.36 L524,140.32 L524.5,140.28 L525,140.23 L525.5,140.18 L526,140.12 L526.5,140.07 L527,140 L527.5,139.94 L528,139.87 L528.5,139.8 L529,139.73 L529.5,139.65 L530,139.57 L530.5,139.48 L531,139.4 L531.5,139.31 L532,139.22 L532.5,139.12 L533,139.02 L533.5,138.92 L534,138.82 L534.5,138.72 L535,138.61 L535.5,138.5 L536,138.38 L536.5,138.27 L537,138.15 L537.5,138.03 L538,137.91 L538.5,137.78 L539,137.66 L539.5,137.53 L540,137.4 L540.5,137.27 L541,137.13 L541.5,136.99 L542,136.86 L542.5,136.72 L543,136.57 L543.5,136.43 L544,136.28 L544.5,136.14 L545,135.99 L545.5,135.84 L546,135.69 L546.5,135.53 L547,135.38 L547.5,135.22 L548,135.06 L548.5,134.91 L549,134.74 L549.5,134.58 L550,134.42 L550.5,134.26 L551,134.09 L551.5,133.92 L552,133.76 L552.5,133.59 L553,133.42 L553.5,133.25 L554,133.07 L554.5,132.9 L555,132.73 L555.5,132.55 L556,132.38 L556.5,132.2 L557,132.02 L557.5,131.84 L558,131.66 L558.5,131.48 L559,131.3 L559.5,131.12 L560,130.94 L560.5,130.75 L561,130.57 L561.5,130.38 L562,130.2 L562.5,130.01 L563,129.82 L563.5,129.64 L564,129.45 L564.5,129.26 L565,129.07 L565.5,128.88 L566,128.69 L566.5,128.49 L567,128.3 L567.5,128.11 L568,127.92 L568.5,127.72 L569,127.53 L569.5,127.33 L570,127.14 L570.5,126.94 L571,126.75 L571.5,126.55 L572,126.35 L572.5,126.15 L573,125.95 L573.5,125.76 L574,125.56 L574.5,125.36 L575,125.16 L575.5,124.96 L576,124.76 L576.5,124.56 L577,124.35 L577.5,124.15 L578,123.95 L578.5,123.75 L579,123.54 L579.5,123.34 L580,123.14 L580.5,122.93 L581,122.73 L581.5,122.53 L582,122.32 L582.5,122.12 L583,121.91 L583.5,121.7 L584,121.5 L584.5,121.29 L585,121.08 L585.5,120.88 L586,120.67 L586.5,120.46 L587,120.26 L587.5,120.05 L588,119.84 L588.5,119.63 L589,119.42 L589.5,119.21 L590,119 L590.5,118.8 L591,118.59 L591.5,118.38 L592,118.17 L592.5,117.96 L593,117.75 L593.5,117.53 L594,117.32 L594.5,117.11 L595,116.9 L595.5,116.69 L596,116.48 L596.5,116.27 L597,116.05 L597.5,115.84 L598,115.63 L598.5,115.42 L599,115.21 L599.5,114.99 L600,114.78 L600.5,114.57 L601,114.35 L601.5,114.14 L602,113.93 L602.5,113.71 L603,113.5 L603.5,113.28 L604,113.07 L604.5,112.86 L605,112.64 L605.5,112.43 L606,112.21 L606.5,112 L607,111.78 L607.5,111.57 L608,111.35 L608.5,111.14 L609,110.92 L609.5,110.7 L610,110.49 L610.5,110.27 L611,110.06 L611.5,109.84 L612,109.62 L612.5,109.41 L613,109.19 L613.5,108.98 L614,108.76 L614.5,108.54 L615,108.32 L615.5,108.11 L616,107.89 L616.5,107.67 L617,107.46 L617.5,107.24 L618,107.02 L618.5,106.8 L619,106.59 L619.5,106.37 L620,106.15 L620.5,105.93 L621,105.71 L621.5,105.5 L622,105.28 L622.5,105.06 L623,104.84 L623.5,104.62 L624,104.4 L624.5,104.19 L625,103.97 L625.5,103.75 L626,103.53 L626.5,103.31 L627,103.09 L627.5,102.87 L628,102.65 L628.5,102.43 L629,102.21 L629.5,101.99 L630,101.77 L630.5,101.56 L631,101.34 L631.5,101.12 L632,100.9 L632.5,100.68 L633,100.46 L633.5,100.24 L634,100.02 L634.5,99.8 L635,99.58 L635.5,99.36 L636,99.14 L636.5,98.92 L637,98.7 L637.5,98.47 L638,98.25 L638.5,98.03 L639,97.81 L639.5,97.59 L640,97.37 L640.5,97.15 L641,96.93 L641.5,96.71 L642,96.49 L642.5,96.27 L643,96.05 L643.5,95.82 L644,95.6 L644.5,95.38 L645,95.16 L645.5,94.94 L646,94.72 L646.5,94.5 L647,94.28 L647.5,94.05 L648,93.83 L648.5,93.61 L649,93.39 L649.5,93.17 L650,92.95 L650.5,92.72 L651,92.5 L651.5,92.28 L652,92.06 L652.5,91.84 L653,91.61 L653.5,91.39 L654,91.17 L654.5,90.95 L655,90.73 L655.5,90.5 L656,90.28 L656.5,90.06 L657,89.84 L657.5,89.62 L658,89.39" fill="none" stroke="#2020ee" stroke-width="1.4"/>
<rect x="516.5" y="56.4" width="156.5" height="113.79999999999998" fill="none" stroke="#000" stroke-width="1.2"/>
<g stroke="#000" stroke-width="1.1">
<path d="M516.5,134.57 h3"/>
<path d="M516.5,99.04 h3"/>
<path d="M516.5,63.51 h3"/>
<path d="M563.1,170.2 v3"/>
<path d="M612.1,170.2 v3"/>
<path d="M661.1,170.2 v3"/>
<path d="M571.4,56.4 v3.2"/>
<path d="M595.5,56.4 v3.2"/>
<path d="M620.4,56.4 v3.2"/>
<path d="M640.0,56.4 v3.2"/>
<path d="M667.8,56.4 v3.2"/>
</g>
<circle cx="590.7" cy="119.8" r="3.45" fill="url(#sph)"/>
<circle cx="595.5" cy="116" r="3.45" fill="url(#sph)"/>
<circle cx="606.2" cy="110.6" r="3.45" fill="url(#sph)"/>
<circle cx="618.7" cy="102.4" r="3.45" fill="url(#sph)"/>
<circle cx="629.3" cy="99.5" r="3.45" fill="url(#sph)"/>
<circle cx="634.6" cy="99.3" r="3.45" fill="url(#sph)"/>
<circle cx="641.9" cy="96" r="3.45" fill="url(#sph)"/>
<circle cx="652.6" cy="91.2" r="3.45" fill="url(#sph)"/>
<circle cx="658.1" cy="88.8" r="3.45" fill="url(#sph)"/>
<clipPath id="ic"><rect x="516.5" y="56" width="157" height="115"/></clipPath><circle cx="517.4" cy="142.2" r="2.7" fill="#000" clip-path="url(#ic)"/>
<path d="M531.7,116.3 L519.8,139.2" stroke="#000" stroke-width="0.7" fill="none" marker-end="url(#ah)"/>
<path d="M565.3,89 V118.6" stroke="#000" stroke-width="1.1" fill="none"/>
<path d="M565.3,85.3 L567.2,90.6 L563.4,90.6 Z M565.3,122.3 L567.2,117 L563.4,117 Z" fill="#000"/>
<g font-size="11.5" fill="#000">
<g transform="translate(511.6,174.1) scale(1,1.1)"><text y="0" x="-6.4" font-size="11.5" >0</text></g>
<g transform="translate(511.6,138.57) scale(1,1.1)"><text y="0" x="-19.19" font-size="11.5" > 00</text><path d="M-16.38,0.00 L-16.38,-6.88 L-18.12,-5.62 L-18.12,-6.60 L-16.24,-7.91 L-15.23,-7.91 L-15.23,0.00Z" fill="#000"/></g>
<g transform="translate(511.6,103.04) scale(1,1.1)"><text y="0" x="-19.19" font-size="11.5" >200</text></g>
<g transform="translate(511.6,67.51) scale(1,1.1)"><text y="0" x="-19.19" font-size="11.5" >300</text></g>
<g transform="translate(563.1,185.2) scale(1,1.1)"><text y="0" x="-11.19" font-size="11.5" >0.02</text></g>
<g transform="translate(612.1,185.2) scale(1,1.1)"><text y="0" x="-11.19" font-size="11.5" >0.04</text></g>
<g transform="translate(661.1,185.2) scale(1,1.1)"><text y="0" x="-11.19" font-size="11.5" >0.06</text></g>
<text transform="translate(568.5,201) scale(1,1.1)"><tspan font-style="italic">k</tspan> (nm<tspan font-size="8.5" dy="-4">−1</tspan><tspan dy="4">)</tspan></text>
<text transform="translate(565.5,159.3) scale(1,1.1)" font-size="12"><tspan font-style="italic">v</tspan><tspan font-size="8.6" dy="4.0">m</tspan><tspan dy="-4.0" dx="0.8"> = 22 nm </tspan><tspan dx="1.8">ps</tspan><tspan font-size="8" dy="-3.9">−1</tspan></text>
<path d="M570.30,89.97 q1.50,-1.44 3.00,0 t3.00,0 M570.30,92.17 q1.50,-1.44 3.00,0 t3.00,0" fill="none" stroke="#333" stroke-width="0.75"/>
<g transform="translate(577.1,94) scale(1,1.1)"><text y="0" x="0" font-size="12" > 00 GHz</text><path d="M2.93,0.00 L2.93,-7.18 L1.11,-5.86 L1.11,-6.88 L3.08,-8.26 L4.13,-8.26 L4.13,0.00Z" fill="#000"/></g>
<text transform="translate(531.2,112) scale(1,1.1)"><tspan font-style="italic">f</tspan><tspan font-size="9.8" dy="3.6">0</tspan></text>
<text transform="translate(647.9,112.8) scale(1,1.1)"><tspan font-style="italic">f</tspan><tspan font-style="italic" font-size="8.6" dy="4.3" dx="-0.6">k</tspan></text>
<text transform="translate(482.3,117.9) rotate(-90)" text-anchor="middle">Frequency (GHz)</text>
<text transform="translate(571.0,14.3) scale(1,1.1)"><tspan font-style="italic">λ</tspan><tspan font-size="8.8" dy="3.1" dx="0.3">probe</tspan><tspan dy="-3.1" dx="0.4"> (nm)</tspan></text>
<g transform="translate(569.7,55) rotate(-45)"><text y="0" x="0" font-size="12.7" > ,200</text><path d="M3.10,0.00 L3.10,-7.60 L1.18,-6.20 L1.18,-7.29 L3.26,-8.74 L4.37,-8.74 L4.37,0.00Z" fill="#000"/></g>
<g transform="translate(596.2,55) rotate(-45)"><text y="0" x="0" font-size="12.7" >850</text></g>
<g transform="translate(621.1,55) rotate(-45)"><text y="0" x="0" font-size="12.7" >650</text></g>
<g transform="translate(640.7,55) rotate(-45)"><text y="0" x="0" font-size="12.7" >550</text></g>
<g transform="translate(668.5,55) rotate(-45)"><text y="0" x="0" font-size="12.7" >450</text></g>
</g>
</svg></body></html>
